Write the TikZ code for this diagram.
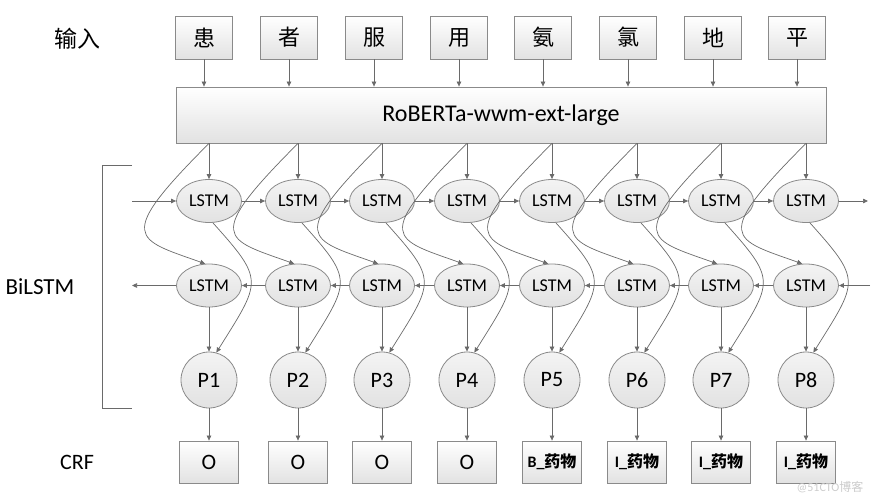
\documentclass[tikz,border=0pt]{standalone}
\usepackage{fontspec}
\setmainfont{Carlito}
\newfontfamily\cjk{Noto Sans CJK SC}
\usetikzlibrary{arrows.meta,positioning,shapes.geometric}
\definecolor{LineGray}{HTML}{6A6A6A}
\definecolor{BoxLine}{HTML}{8A8A8A}
\definecolor{BoxFill}{HTML}{E2E2E2}
\newcommand{\drug}[1]{{\fontsize{16}{16}\selectfont\bfseries #1\_{\cjk 药物}}}
\tikzset{>={Triangle[length=5pt,width=4.5pt]},
 arr/.style={draw=LineGray,->,line width=.7pt},
 shade box/.style={draw=BoxLine,line width=.8pt,top color=white,bottom color=BoxFill,inner sep=0pt},
 charbox/.style={shade box,minimum width=57pt,minimum height=43pt,font=\cjk\fontsize{22}{22}\selectfont},
 lstm/.style={shade box,ellipse,top color=BoxFill!40,minimum width=65pt,minimum height=43pt,font=\fontsize{18}{18}\selectfont},
 prob/.style={shade box,circle,top color=BoxFill!40,minimum size=56pt,font=\fontsize{22}{22}\selectfont},
 tagbox/.style={shade box,minimum width=59pt,minimum height=42pt,font=\fontsize{22}{22}\selectfont},
 side/.style={font=\fontsize{23}{23}\selectfont}}
\begin{document}
\begin{tikzpicture}[x=1pt,y=-1pt]
\useasboundingbox (0,0) rectangle (875,500);
% row labels
\node[side,font=\cjk\fontsize{23}{23}\selectfont] (lin) at (77,39) {输入};
\node[side] (lbi) at (40,287) {BiLSTM};
\node[side,font=\fontsize{22}{22}\selectfont] (lcrf) at (77,462) {CRF};
\draw[LineGray,line width=.9pt] (132,165)--(102,165)--(102,408)--(132,408);
% encoder
\node[shade box,minimum width=650pt,minimum height=56pt,font=\fontsize{24}{24}\selectfont] (enc) at (501,115) {RoBERTa-wwm-ext-large};
% columns
\foreach \i/\tx/\bx/\ch/\tg in {1/204/209/患/O,2/289/298/者/O,3/374/382/服/O,4/459/467/用/O,
 5/543/552/氨/\drug{B},6/628/637/氯/\drug{I},7/713/721/地/\drug{I},8/797/806/平/\drug{I}}{
 \node[charbox] (t\i) at (\tx,37.5) {\ch};
 \node[lstm] (f\i) at (\bx,201) {LSTM};
 \node[lstm] (b\i) at (\bx,285.5) {LSTM};
 \node[prob] (p\i) at (\bx,380) {P\i};
 \node[tagbox] (c\i) at (\bx,462) {\tg};
}
\foreach \i in {1,...,8}{
 \draw[arr] (t\i)--(t\i |- enc.north);
 \draw[arr] (enc.south -| f\i)--(f\i);
 \draw[arr] (enc.south -| f\i) .. controls +(-95,95) and +(-70,-25) .. (b\i.100);
 \draw[arr] (f\i.-80) .. controls +(52,58) and +(45,-72) .. (p\i.75);
 \draw[arr] (b\i)--(p\i);
 \draw[arr] (p\i)--(c\i);
}
\foreach \i/\j in {1/2,2/3,3/4,4/5,5/6,6/7,7/8}{
 \draw[arr] (f\i)--(f\j);
 \draw[arr] (b\j)--(b\i);
}
\coordinate (fin) at (132,201);\coordinate (fout) at (868,201);
\coordinate (bout) at (132,285.5);\coordinate (bin) at (870,285.5);
\draw[arr] (fin)--(f1);\draw[arr] (f8)--(fout);
\draw[arr] (b1)--(bout);\draw[arr] (bin)--(b8);
\node[text=gray!40,font=\fontsize{12}{12}\selectfont] (mark) at (830,487) {@51CTO{\cjk 博客}};
\end{tikzpicture}
\end{document}
